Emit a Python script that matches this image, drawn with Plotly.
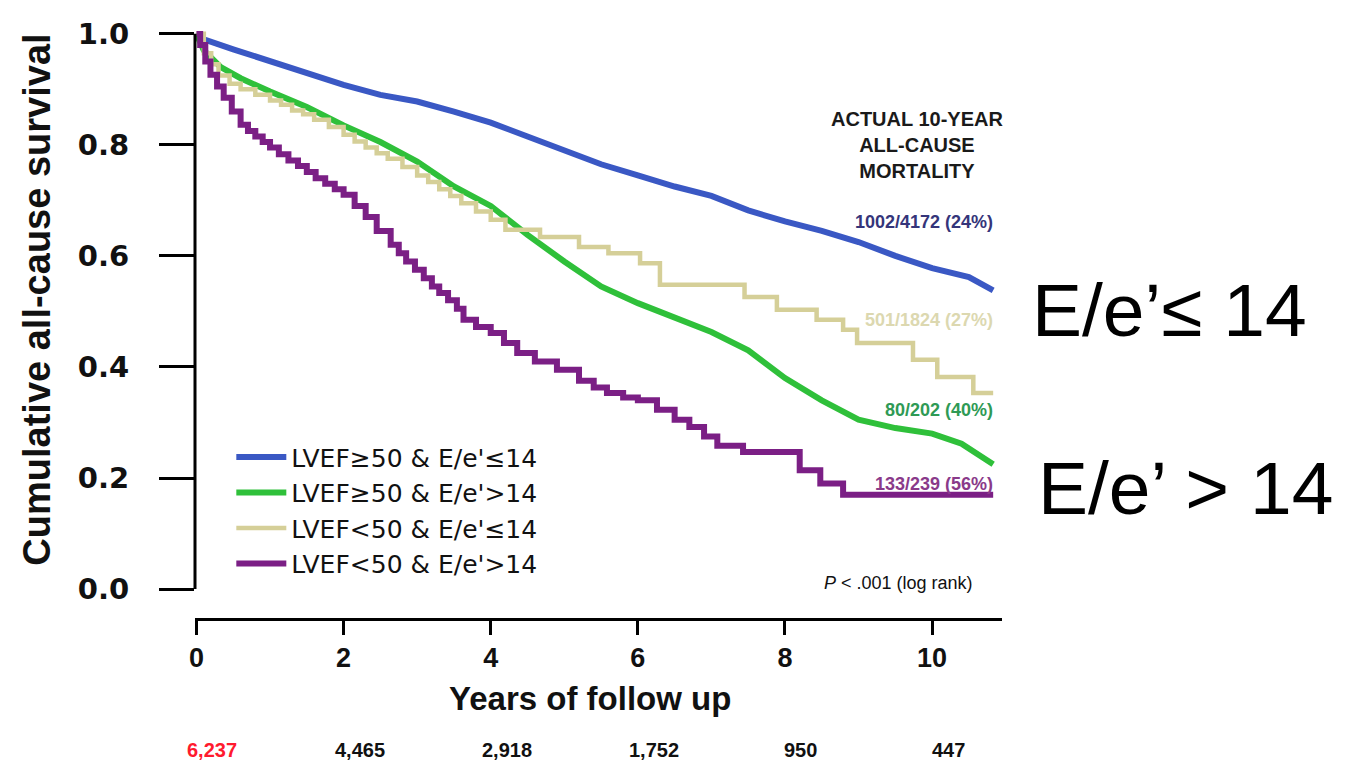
import plotly.graph_objects as go

# ---- data ----
blue_t = [0, 0.1, 0.5, 1, 1.5, 2, 2.5, 3, 3.5, 4, 4.5, 5, 5.5, 6, 6.5, 7, 7.5, 8, 8.5, 9, 9.5, 10, 10.5, 10.83]
blue_s = [1.0, 0.99, 0.972, 0.95, 0.93, 0.908, 0.89, 0.878, 0.86, 0.84, 0.815, 0.79, 0.765, 0.745, 0.725, 0.708, 0.682, 0.662, 0.645, 0.625, 0.6, 0.578, 0.562, 0.538]

green_t = [0, 0.1, 0.33, 0.6, 1, 1.5, 2, 2.5, 3, 3.5, 4, 4.5, 5, 5.5, 6, 6.5, 7, 7.5, 8, 8.5, 9, 9.5, 10, 10.4, 10.6, 10.83]
green_s = [1.0, 0.97, 0.94, 0.92, 0.896, 0.868, 0.835, 0.805, 0.77, 0.725, 0.69, 0.638, 0.59, 0.545, 0.515, 0.49, 0.463, 0.43, 0.38, 0.34, 0.305, 0.29, 0.28, 0.262, 0.245, 0.225]

tan_t = [0, 0.1, 0.2, 0.3, 0.45, 0.6, 0.8, 1, 1.15, 1.3, 1.45, 1.6, 1.8, 2, 2.15, 2.3, 2.45, 2.6, 2.8, 3, 3.15, 3.3, 3.45, 3.6, 3.8, 4, 4.2, 4.67, 5.2, 5.6, 6.03, 6.3, 7.45, 7.89, 8.43, 8.79, 8.98, 9.74, 10.07, 10.56, 10.83]
tan_s = [1.0, 0.965, 0.945, 0.925, 0.91, 0.9, 0.89, 0.88, 0.872, 0.862, 0.855, 0.845, 0.832, 0.818, 0.806, 0.795, 0.785, 0.775, 0.76, 0.745, 0.733, 0.72, 0.708, 0.695, 0.68, 0.665, 0.647, 0.634, 0.616, 0.605, 0.587, 0.548, 0.526, 0.503, 0.485, 0.467, 0.443, 0.413, 0.382, 0.353, 0.353]

purple_t = [0, 0.05, 0.12, 0.19, 0.28, 0.37, 0.48, 0.6, 0.7, 0.8, 0.9, 1, 1.12, 1.25, 1.38, 1.5, 1.62, 1.75, 1.88, 2, 2.15, 2.3, 2.45, 2.64, 2.75, 2.85, 2.97, 3.09, 3.2, 3.3, 3.42, 3.54, 3.63, 3.8, 4.0, 4.18, 4.36, 4.6, 4.9, 5.2, 5.4, 5.58, 5.8, 6.0, 6.26, 6.5, 6.7, 6.9, 7.08, 7.43, 8.2, 8.48, 8.79, 10.83]
purple_s = [1.0, 0.98, 0.95, 0.926, 0.905, 0.885, 0.86, 0.836, 0.825, 0.815, 0.805, 0.795, 0.783, 0.772, 0.762, 0.751, 0.74, 0.73, 0.72, 0.71, 0.69, 0.67, 0.645, 0.62, 0.605, 0.59, 0.575, 0.56, 0.545, 0.533, 0.52, 0.505, 0.485, 0.472, 0.461, 0.443, 0.425, 0.41, 0.395, 0.375, 0.363, 0.353, 0.345, 0.34, 0.323, 0.305, 0.292, 0.275, 0.258, 0.247, 0.214, 0.19, 0.17, 0.17]

series_names = ["LVEF≥50 & E/e'≤14", "LVEF≥50 & E/e'>14", "LVEF<50 & E/e'≤14", "LVEF<50 & E/e'>14"]
series_colors = ["#3a58c4", "#2fc03a", "#d5cf98", "#7b1f85"]
mortality_labels = ["1002/4172 (24%)", "501/1824 (27%)", "80/202 (40%)", "133/239 (56%)"]
mortality_colors = ["#35357a", "#dcd8b0", "#2f9a55", "#8a3a8a"]
mortality_y = [0.661, 0.485, 0.322, 0.19]

at_risk_x = [0, 2, 4, 6, 8, 10]
at_risk = ["6,237", "4,465", "2,918", "1,752", "950", "447"]
at_risk_colors = ["#ff1a2e", "#111", "#111", "#111", "#111", "#111"]

y_ticks = [0.0, 0.2, 0.4, 0.6, 0.8, 1.0]
x_ticks = [0, 2, 4, 6, 8, 10]

fig = go.Figure()
data = [(blue_t, blue_s, "linear", 6), (green_t, green_s, "linear", 6),
        (tan_t, tan_s, "hv", 4.5), (purple_t, purple_s, "hv", 6)]
for (t, s, shape, w), name, col in zip(data, series_names, series_colors):
    fig.add_trace(go.Scatter(x=t, y=s, mode="lines", name=name,
                             line=dict(color=col, width=w, shape=shape)))

AR = "Liberation Sans, Arial, sans-serif"

# y axis line from 0 to 1
fig.add_shape(type="line", xref="paper", yref="y", x0=0, x1=0, y0=0, y1=1,
              line=dict(color="black", width=3))

annots = []
annots.append(dict(text="<b>ACTUAL 10-YEAR<br>ALL-CAUSE<br>MORTALITY</b>", xref="x", yref="y",
                   x=9.8, y=0.8, showarrow=False, align="center",
                   font=dict(family=AR, size=20, color="#1a1a1a")))
for lab, col, yy in zip(mortality_labels, mortality_colors, mortality_y):
    annots.append(dict(text="<b>" + lab + "</b>", xref="x", yref="y", x=10.85, y=yy,
                       xanchor="right", showarrow=False,
                       font=dict(family=AR, size=18, color=col)))
annots.append(dict(text="<i>P</i> < .001 (log rank)", xref="x", yref="y", x=10.58, y=0.011,
                   xanchor="right", showarrow=False, font=dict(family=AR, size=18, color="#111")))
annots.append(dict(text="E/e’≤ 14", xref="paper", yref="paper", x=1.035, y=0.525,
                   xanchor="left", yanchor="middle", showarrow=False,
                   font=dict(family=AR, size=75, color="black")))
annots.append(dict(text="E/e’ > 14", xref="paper", yref="paper", x=1.042, y=0.221,
                   xanchor="left", yanchor="middle", showarrow=False,
                   font=dict(family=AR, size=75, color="black")))
for xv, lab, col in zip(at_risk_x, at_risk, at_risk_colors):
    annots.append(dict(text="<b>" + lab + "</b>", xref="x", yref="paper", x=xv, y=-0.225,
                       xshift=16, showarrow=False, yanchor="middle",
                       font=dict(family=AR, size=20, color=col)))
annots.append(dict(text="<b>Cumulative all-cause survival</b>", xref="paper", yref="paper",
                   x=-0.196, y=0.542, textangle=-90, showarrow=False, xanchor="center",
                   yanchor="middle", font=dict(family=AR, size=38, color="#111")))
annots.append(dict(text="<b>Years of follow up</b>", xref="paper", yref="paper",
                   x=0.489, y=-0.137, showarrow=False, yanchor="middle",
                   font=dict(family=AR, size=33, color="#111")))

fig.update_layout(
    width=1363, height=767,
    margin=dict(l=195, r=361, t=31, b=149),
    paper_bgcolor="white", plot_bgcolor="white",
    annotations=annots,
    showlegend=True,
    legend=dict(x=0.045, y=0.313, xanchor="left", yanchor="top",
                font=dict(family="DejaVu Sans, sans-serif", size=25, color="#111"),
                bgcolor="rgba(0,0,0,0)", itemwidth=50, tracegroupgap=0),
    xaxis=dict(range=[-0.02, 10.95], tickvals=x_ticks, ticktext=["<b>%d</b>" % v for v in x_ticks],
               showline=True, linecolor="black", linewidth=3, ticks="outside",
               ticklen=14, tickwidth=3, tickcolor="black", showgrid=False, zeroline=False,
               tickfont=dict(family=AR, size=27, color="#111")),
    yaxis=dict(range=[-0.052, 1.005], tickvals=y_ticks, ticktext=["<b>%.1f</b>" % v for v in y_ticks],
               showline=False, ticks="outside", ticklen=35, tickwidth=3, tickcolor="black",
               showgrid=False, zeroline=False, ticklabelstandoff=24,
               tickfont=dict(family="DejaVu Sans, Verdana, sans-serif", size=29, color="#111")),
)

fig.write_html("out.html")
